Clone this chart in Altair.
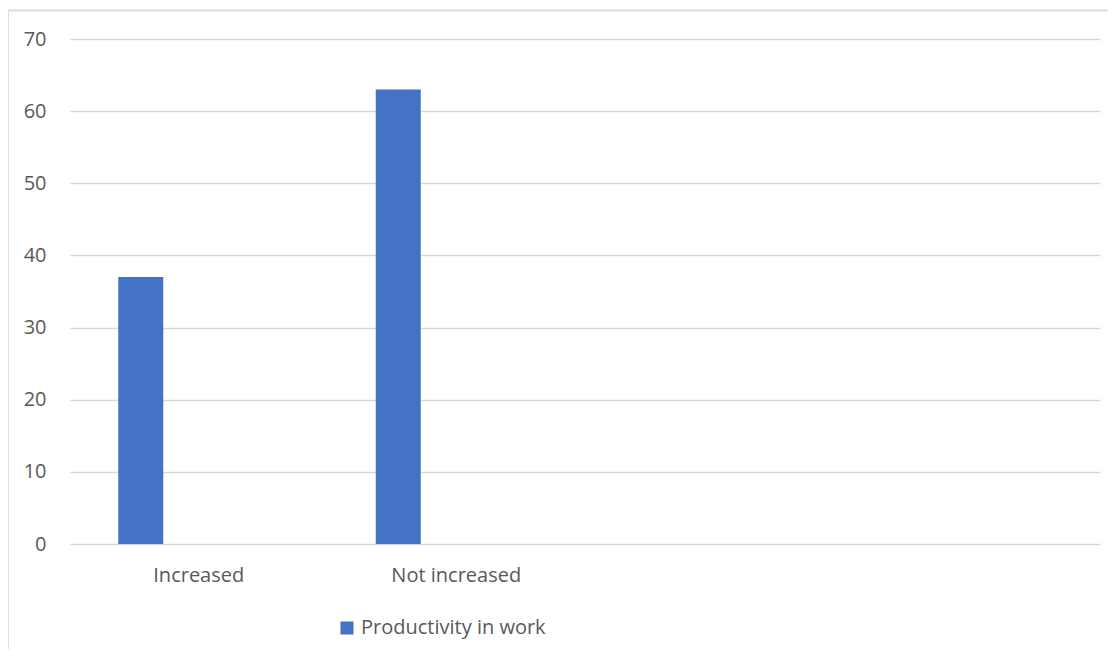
import altair as alt
import pandas as pd

categories = ["Increased", "Not increased"]
axis_slots = ["Increased", "Not increased", " ", "  "]
values = [37, 63]
series = ["Productivity in work"] * 2

df = pd.DataFrame({"category": categories, "value": values, "series": series})

FONT = "Open Sans"
GRAY = "#595959"
FS = 20

bars = alt.Chart(df).mark_bar(size=45, xOffset=-58, color="#4472C4").encode(
    x=alt.X("category:N", scale=alt.Scale(domain=axis_slots, paddingInner=0, paddingOuter=0),
            sort=axis_slots,
            axis=alt.Axis(title=None, labelAngle=0, domain=False, ticks=False, grid=False,
                          labelPadding=21, labelFontSize=FS, labelColor=GRAY, labelFont=FONT)),
    y=alt.Y("value:Q", scale=alt.Scale(domain=[0, 70], nice=False),
            axis=alt.Axis(title=None, values=list(range(0, 71, 10)), domain=False, ticks=False,
                          labelPadding=24, labelFontSize=FS, labelColor=GRAY, labelFont=FONT,
                          gridColor="#D9D9D9", gridWidth=1.3)),
    color=alt.Color("series:N", scale=alt.Scale(range=["#4472C4"]),
                    legend=alt.Legend(title=None, orient="none", legendX=267, legendY=579,
                                      symbolType="square", symbolSize=170, symbolStrokeWidth=0,
                                      labelFontSize=FS, labelColor=GRAY, labelFont=FONT,
                                      labelOffset=4, labelLimit=0)),
)

border = alt.Chart(df).mark_rect(fill=None, stroke="#D9D9D9", strokeWidth=1.5, clip=False).encode(
    x=alt.value(-62), x2=alt.value(1045), y=alt.value(-28.5), y2=alt.value(620)
)

chart = alt.layer(border, bars).properties(
    width=1030, height=505,
    autosize=alt.AutoSizeParams(type="none"),
    padding={"left": 62, "top": 31, "right": 8, "bottom": 105},
).configure_view(stroke=None)

chart.save("out.html", embed_options={"renderer": "svg", "actions": False})
